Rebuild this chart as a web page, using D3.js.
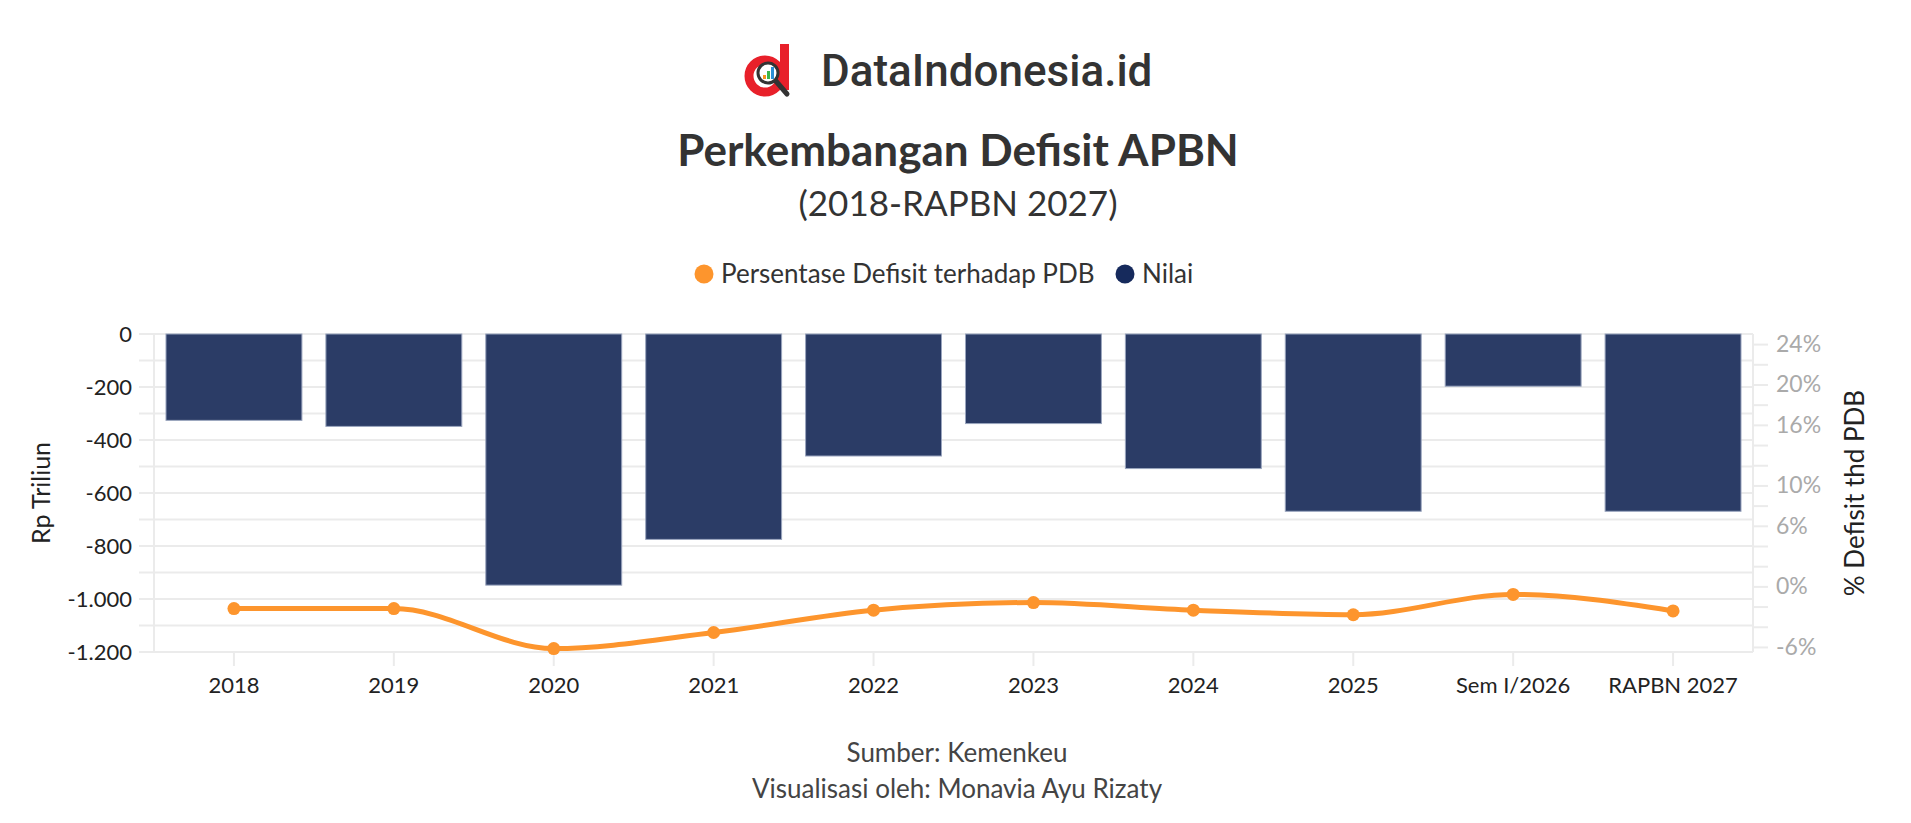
<!DOCTYPE html>
<html>
<head>
<meta charset="utf-8">
<script src="https://cdn.jsdelivr.net/npm/d3@7"></script>
<style>
  body { margin: 0; background: #fff; }
  svg { display: block; font-family: Lato, "Noto Sans", sans-serif; }
</style>
</head>
<body>
<svg id="chart" width="1911" height="823"></svg>
<script>
// data
const categories = ["2018", "2019", "2020", "2021", "2022", "2023", "2024", "2025", "Sem I/2026", "RAPBN 2027"];
const nilai = [-325.9, -348.7, -947.7, -775.1, -460.4, -338, -507.8, -669, -197, -669];
const persen = [-2.2, -2.2, -6.16, -4.57, -2.36, -1.6, -2.36, -2.81, -0.8, -2.43];

const leftTicks = [0, -200, -400, -600, -800, -1000, -1200];
const rightTicks = d3.range(-6, 25, 2);
const rightLabels = [24, 20, 16, 10, 6, 0, -6];

const navy = "#2b3c66";
const orange = "#fd952d";
const gridColor = "#ebebeb";

const svg = d3.select("#chart");
const plot = { left: 154, right: 1753, top: 334, bottom: 652 };

const x = d3.scaleBand().domain(categories).range([plot.left, plot.right]).paddingInner(0.15).paddingOuter(0.075);
const y = d3.scaleLinear().domain([-1200, 0]).range([plot.bottom, plot.top]);
const y2 = d3.scaleLinear().domain([-6.5, 25]).range([plot.bottom, plot.top]);

// logo
const logo = svg.append("g");
logo.append("circle").attr("cx", 765).attr("cy", 76).attr("r", 16)
  .attr("fill", "none").attr("stroke", "#e8202a").attr("stroke-width", 9);
logo.append("rect").attr("x", 780).attr("y", 44).attr("width", 9).attr("height", 46).attr("fill", "#e8202a");
logo.append("line").attr("x1", 775).attr("y1", 80).attr("x2", 787).attr("y2", 94)
  .attr("stroke", "#333").attr("stroke-width", 5).attr("stroke-linecap", "round");
logo.append("circle").attr("cx", 768).attr("cy", 73).attr("r", 10)
  .attr("fill", "#fff").attr("stroke", "#333").attr("stroke-width", 3);
[["#f7931e", 763, 75, 4], ["#3cb54a", 767, 71, 8], ["#2b8fd6", 771, 67, 12]].forEach(([c, bx, by, h]) => {
  logo.append("rect").attr("x", bx).attr("y", by).attr("width", 3).attr("height", h).attr("fill", c);
});
svg.append("text").attr("x", 821).attr("y", 86)
  .style("font-family", "Roboto, sans-serif").style("font-weight", 500)
  .style("font-size", "44px").attr("fill", "#333").text("DataIndonesia.id");

// titles
svg.append("text").attr("x", 958).attr("y", 166).attr("text-anchor", "middle")
  .style("font-weight", 700).style("font-size", "44px").attr("fill", "#333")
  .text("Perkembangan Defisit APBN");
svg.append("text").attr("x", 958).attr("y", 216).attr("text-anchor", "middle")
  .style("font-size", "35px").attr("fill", "#333")
  .text("(2018-RAPBN 2027)");

// legend
const legend = svg.append("g").style("font-size", "26px").attr("fill", "#333");
legend.append("circle").attr("cx", 704).attr("cy", 274).attr("r", 9.5).attr("fill", orange);
legend.append("text").attr("x", 721).attr("y", 283).text("Persentase Defisit terhadap PDB");
legend.append("circle").attr("cx", 1125).attr("cy", 274).attr("r", 9.5).attr("fill", "#162a5c");
legend.append("text").attr("x", 1142).attr("y", 283).text("Nilai");

// gridlines (every 100) with left tick marks
const grid = svg.append("g");
grid.selectAll("line").data(d3.range(-1200, 1, 100)).join("line")
  .attr("x1", plot.left - 15).attr("x2", plot.right)
  .attr("y1", d => y(d)).attr("y2", d => y(d))
  .attr("stroke", gridColor).attr("stroke-width", 2);

// axis lines
svg.append("line").attr("x1", plot.left).attr("x2", plot.left).attr("y1", plot.top).attr("y2", plot.bottom)
  .attr("stroke", gridColor).attr("stroke-width", 2);
svg.append("line").attr("x1", plot.right).attr("x2", plot.right).attr("y1", plot.top).attr("y2", plot.bottom)
  .attr("stroke", gridColor).attr("stroke-width", 2);

// left axis
const gLeft = svg.append("g").attr("transform", `translate(${plot.left - 22},0)`)
  .call(d3.axisLeft(y).tickValues(leftTicks).tickSize(0).tickPadding(0)
    .tickFormat(d => d3.format(",")(d).replace(/,/g, ".").replace("−", "-")));
gLeft.select(".domain").remove();
gLeft.selectAll("text").style("font-size", "22px").style("font-family", "Lato, sans-serif").attr("fill", "#222");

// right axis
const gRight = svg.append("g").attr("transform", `translate(${plot.right},0)`)
  .call(d3.axisRight(y2).tickValues(rightTicks).tickSize(15).tickPadding(8)
    .tickFormat(d => rightLabels.includes(d) ? (d < 0 ? "-" + Math.abs(d) : d) + "%" : ""));
gRight.select(".domain").remove();
gRight.selectAll("line").attr("stroke", gridColor).attr("stroke-width", 2);
gRight.selectAll("text").style("font-size", "23px").style("font-family", "Lato, sans-serif").attr("fill", "#aaa");

// x axis
const gX = svg.append("g").attr("transform", `translate(0,${plot.bottom})`)
  .call(d3.axisBottom(x).tickSize(14).tickPadding(11));
gX.select(".domain").remove();
gX.selectAll("line").attr("stroke", gridColor).attr("stroke-width", 2);
gX.selectAll("text").style("font-size", "22px").style("font-family", "Lato, sans-serif").attr("fill", "#222");

// axis titles
svg.append("text").attr("transform", `translate(50,${(plot.top + plot.bottom) / 2}) rotate(-90)`)
  .attr("text-anchor", "middle").style("font-size", "25px").attr("fill", "#222").text("Rp Triliun");
svg.append("text").attr("transform", `translate(1864,${(plot.top + plot.bottom) / 2}) rotate(-90)`)
  .attr("text-anchor", "middle").style("font-size", "26px").attr("fill", "#222").text("% Defisit thd PDB");

// bars
svg.append("g").selectAll("rect").data(categories).join("rect")
  .attr("x", d => x(d))
  .attr("y", y(0))
  .attr("width", x.bandwidth())
  .attr("height", (d, i) => y(nilai[i]) - y(0))
  .attr("fill", navy)
  .attr("stroke", "#9aa5be").attr("stroke-width", 1);

// line
const pts = categories.map((c, i) => [x(c) + x.bandwidth() / 2, y2(persen[i])]);
svg.append("path").datum(pts)
  .attr("d", d3.line().curve(d3.curveMonotoneX))
  .attr("fill", "none").attr("stroke", orange).attr("stroke-width", 5);
svg.append("g").selectAll("circle").data(pts).join("circle")
  .attr("cx", d => d[0]).attr("cy", d => d[1]).attr("r", 6.5).attr("fill", orange);

// footer
svg.append("text").attr("x", 957).attr("y", 762).attr("text-anchor", "middle")
  .style("font-size", "26px").attr("fill", "#444").text("Sumber: Kemenkeu");
svg.append("text").attr("x", 957).attr("y", 798).attr("text-anchor", "middle")
  .style("font-size", "26px").attr("fill", "#444").text("Visualisasi oleh: Monavia Ayu Rizaty");
</script>
</body>
</html>
